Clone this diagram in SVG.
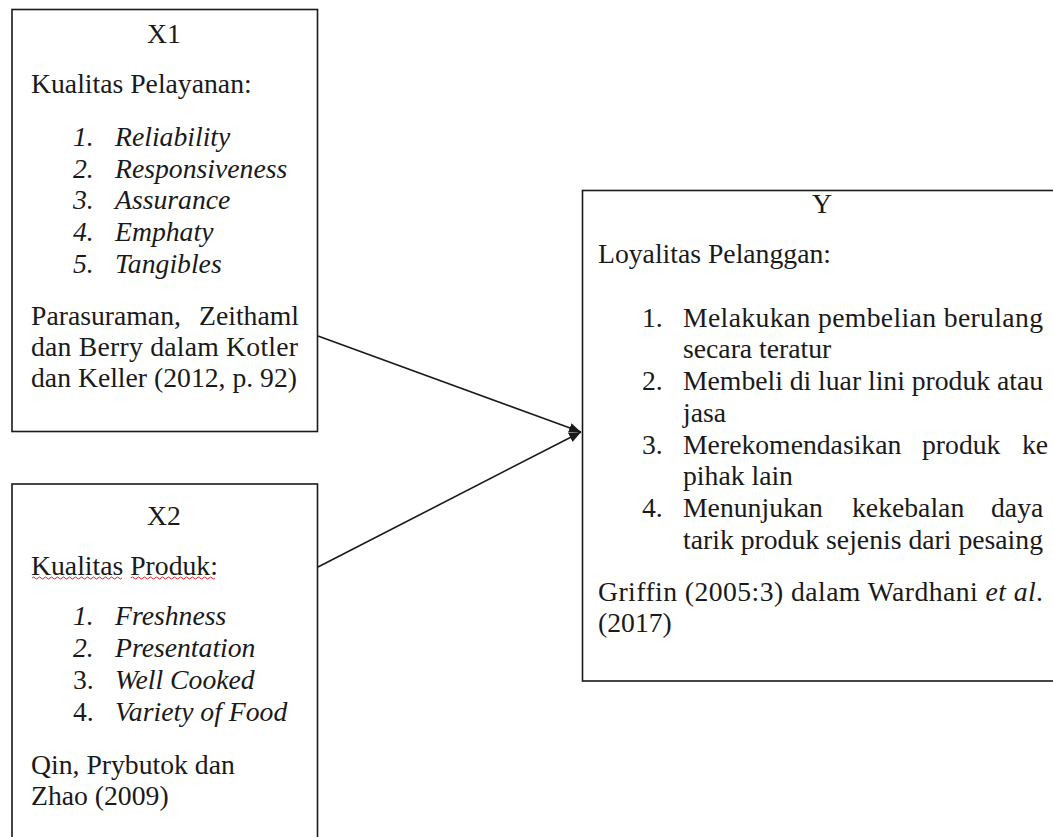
<svg xmlns="http://www.w3.org/2000/svg" width="1053" height="837" viewBox="0 0 1053 837">
<style>
.box{fill:#fff;stroke:#1a1a1a;stroke-width:1.6}
text{font-family:"Liberation Serif","Times New Roman",serif;font-size:27.7px;fill:#1a1a1a}
.i{font-style:italic}
.c{text-anchor:middle}
.conn{stroke:#1a1a1a;stroke-width:1.6;fill:none}
.sq{stroke:#e02020;stroke-width:1;fill:none}
</style>
<defs>
<marker id="ah" viewBox="0 0 12 10" refX="12" refY="5" markerWidth="12" markerHeight="10" markerUnits="userSpaceOnUse" orient="auto">
<path d="M0,0 L12,5 L0,10 z" fill="#1a1a1a"/>
</marker>
</defs>
<rect width="1053" height="837" fill="#fff"/>
<g id="X1">
<rect class="box" x="12" y="9.5" width="305.5" height="422"/>
<text class="c" x="164" y="43">X1</text>
<text x="31" y="93">Kualitas Pelayanan:</text>
<text class="i" x="73" y="146">1.</text><text class="i" x="115" y="146">Reliability</text>
<text class="i" x="73" y="178">2.</text><text class="i" x="115" y="178">Responsiveness</text>
<text class="i" x="73" y="209">3.</text><text class="i" x="115" y="209">Assurance</text>
<text class="i" x="73" y="241">4.</text><text class="i" x="115" y="241">Emphaty</text>
<text class="i" x="73" y="273">5.</text><text class="i" x="115" y="273">Tangibles</text>
<text x="31" y="325">Parasuraman,</text><text x="199" y="325">Zeithaml</text>
<text x="31" y="356" textLength="267" lengthAdjust="spacing">dan Berry dalam Kotler</text>
<text x="31" y="387">dan Keller (2012, p. 92)</text>
</g>
<g id="X2">
<rect class="box" x="12" y="484" width="305.5" height="370"/>
<text class="c" x="164" y="525">X2</text>
<text x="31" y="575">Kualitas Produk:</text>
<path class="sq" d="M32,578 q1.5,-2 3,0 t3,0 t3,0 t3,0 t3,0 t3,0 t3,0 t3,0 t3,0 t3,0 t3,0 t3,0 t3,0 t3,0 t3,0 t3,0 t3,0 t3,0 t3,0 t3,0 t3,0 t3,0 t3,0 t3,0 t3,0 t3,0 t3,0 t3,0 t3,0 t3,0"/>
<path class="sq" d="M131,578 q1.5,-2 3,0 t3,0 t3,0 t3,0 t3,0 t3,0 t3,0 t3,0 t3,0 t3,0 t3,0 t3,0 t3,0 t3,0 t3,0 t3,0 t3,0 t3,0 t3,0 t3,0 t3,0 t3,0 t3,0 t3,0 t3,0 t3,0 t3,0 t3,0"/>
<text class="i" x="73" y="625">1.</text><text class="i" x="115" y="625">Freshness</text>
<text class="i" x="73" y="657">2.</text><text class="i" x="115" y="657">Presentation</text>
<text x="73" y="689">3.</text><text class="i" x="115" y="689">Well Cooked</text>
<text x="73" y="721">4.</text><text class="i" x="115" y="721">Variety of Food</text>
<text x="31" y="774">Qin, Prybutok dan</text>
<text x="31" y="805">Zhao (2009)</text>
</g>
<g id="Y">
<rect class="box" x="582.5" y="190.5" width="480" height="490.5"/>
<text class="c" x="822" y="213">Y</text>
<text x="598" y="263">Loyalitas Pelanggan:</text>
<text x="642" y="327">1.</text><text x="683" y="327" textLength="360" lengthAdjust="spacing">Melakukan pembelian berulang</text>
<text x="683" y="358">secara teratur</text>
<text x="642" y="390">2.</text><text x="683" y="390" textLength="360" lengthAdjust="spacing">Membeli di luar lini produk atau</text>
<text x="683" y="422">jasa</text>
<text x="642" y="454">3.</text><text x="683" y="454">Merekomendasikan</text><text x="922" y="454">produk</text><text x="1022" y="454">ke</text>
<text x="683" y="485">pihak lain</text>
<text x="642" y="517">4.</text><text x="683" y="517">Menunjukan</text><text x="852" y="517">kekebalan</text><text x="991" y="517">daya</text>
<text x="683" y="549" textLength="360" lengthAdjust="spacing">tarik produk sejenis dari pesaing</text>
<text x="598" y="601" textLength="445" lengthAdjust="spacing">Griffin (2005:3) dalam Wardhani <tspan class="i">et al</tspan>.</text>
<text x="598" y="632">(2017)</text>
</g>
<g id="connectors">
<line class="conn" x1="318" y1="336" x2="581" y2="432" marker-end="url(#ah)"/>
<line class="conn" x1="318" y1="567" x2="581" y2="432" marker-end="url(#ah)"/>
</g>
</svg>
